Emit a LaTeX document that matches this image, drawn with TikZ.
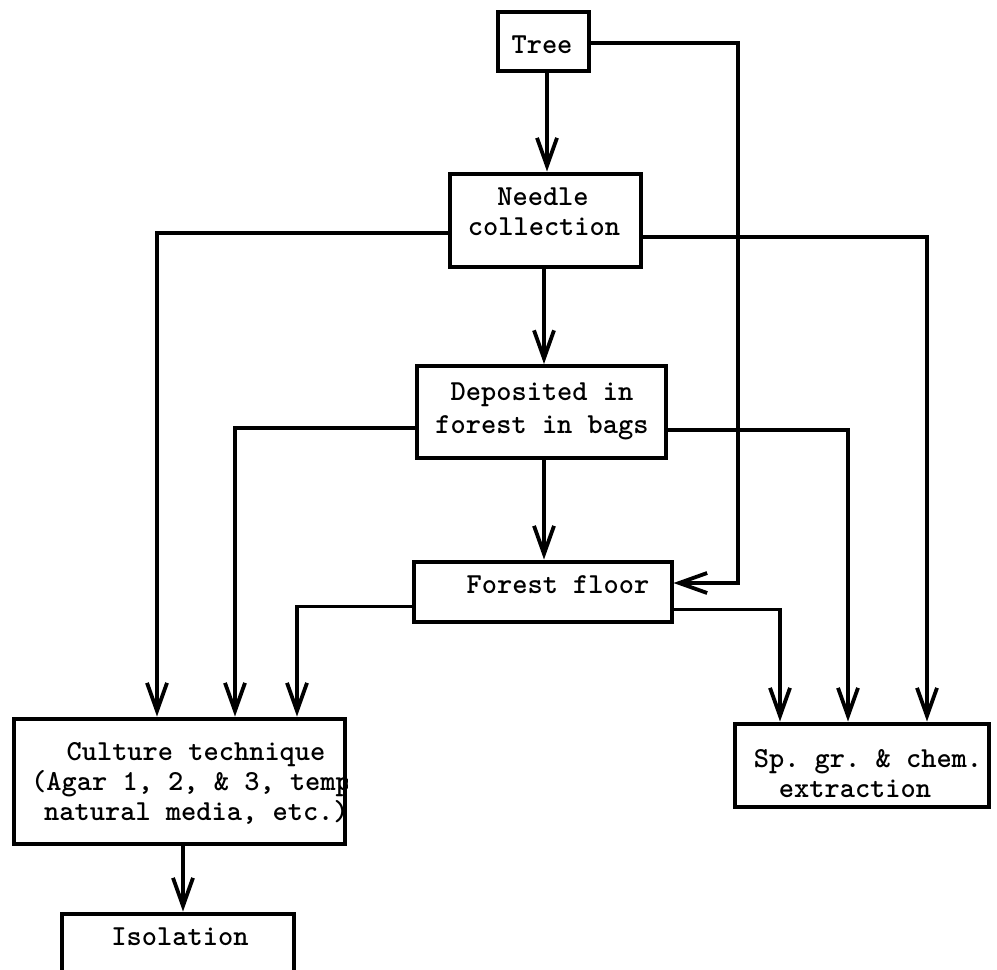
\documentclass[tikz,border=0pt]{standalone}
\usepackage{fontspec}
\usetikzlibrary{arrows.meta,calc}
\begin{document}
\begin{tikzpicture}[x=1pt,y=-1pt,
  box/.style={draw,line width=4pt,inner sep=0pt},
  txt/.style={font=\ttfamily\bfseries\fontsize{29}{33}\selectfont,inner sep=0pt,anchor=base},
  txtw/.style={txt,anchor=base west},
  arr/.style={line width=3.8pt,-{Straight Barb[length=28pt,width=20pt]}}]
\useasboundingbox (0,0) rectangle (997,970);
\clip (0,0) rectangle (997,970);
% boxes
\node[box,minimum width=91pt,minimum height=59pt] (tree) at (543,41) {};
\node[box,minimum width=191pt,minimum height=93pt] (needle) at (545,220) {};
\node[box,minimum width=249pt,minimum height=92pt] (dep) at (541,412) {};
\node[box,minimum width=258pt,minimum height=60pt] (floor) at (542.5,591.5) {};
\node[box,minimum width=254pt,minimum height=83pt] (sp) at (861.5,765) {};
\node[box,minimum width=331pt,minimum height=125pt] (cult) at (179,781) {};
\node[box,minimum width=232pt,minimum height=120pt] (iso) at (177.5,973.5) {};
% texts
\node[txt] (treeT) at (542,53) {Tree};
\node[txt] (needleT1) at (543,205) {Needle};
\node[txt] (needleT2) at (544,235) {collection};
\node[txt] (depT1) at (542,400) {Deposited in};
\node[txt] (depT2) at (542,433) {forest in bags};
\node[txt] (floorT) at (558,593) {Forest floor};
\node[txt] (spT1) at (868,767) {Sp.\ gr.\ \& chem.};
\node[txt] (spT2) at (855,797) {extraction};
\node[txt] (cultT1) at (196,760) {Culture technique};
\begin{scope}
\clip (0,765) rectangle (347,800);
\node[txtw] (cultT2) at (31,790) {(Agar 1, 2, \& 3, temp};
\end{scope}
\node[txtw] (cultT3) at (44,820) {natural media, etc.)};
\node[txt] (isoT) at (180,945) {Isolation};
% coordinates for vertical runs
\coordinate (xa) at (157,0);
\coordinate (xb) at (235,0);
\coordinate (xc) at (297,0);
\coordinate (xd) at (780,0);
\coordinate (xe) at (848,0);
\coordinate (xf) at (927,0);
\coordinate (xt) at (738,0);
\coordinate (xm) at (544,0);
\coordinate (xs) at (547,0);
\coordinate (xi) at (183,0);
\coordinate (tin) at (738,583);
% connectors
\draw[arr] (xs |- tree.south) -- (xs |- needle.north);
\draw[arr] ($(tree.east)+(0,2)$) -| (tin) -- (tin -| floor.east);
\draw[arr] ($(needle.west)+(0,13)$) -| (xa |- cult.north);
\draw[arr] ($(needle.east)+(0,17)$) -| (xf |- sp.north);
\draw[arr] (xm |- needle.south) -- (xm |- dep.north);
\draw[arr] ($(dep.west)+(0,16)$) -| (xb |- cult.north);
\draw[arr] ($(dep.east)+(0,18)$) -| (xe |- sp.north);
\draw[arr] (xm |- dep.south) -- (xm |- floor.north);
\draw[arr] ($(floor.west)+(0,15)$) -| (xc |- cult.north);
\draw[arr] ($(floor.east)+(0,18)$) -| (xd |- sp.north);
\draw[arr] (xi |- cult.south) -- (xi |- iso.north);
\end{tikzpicture}
\end{document}
